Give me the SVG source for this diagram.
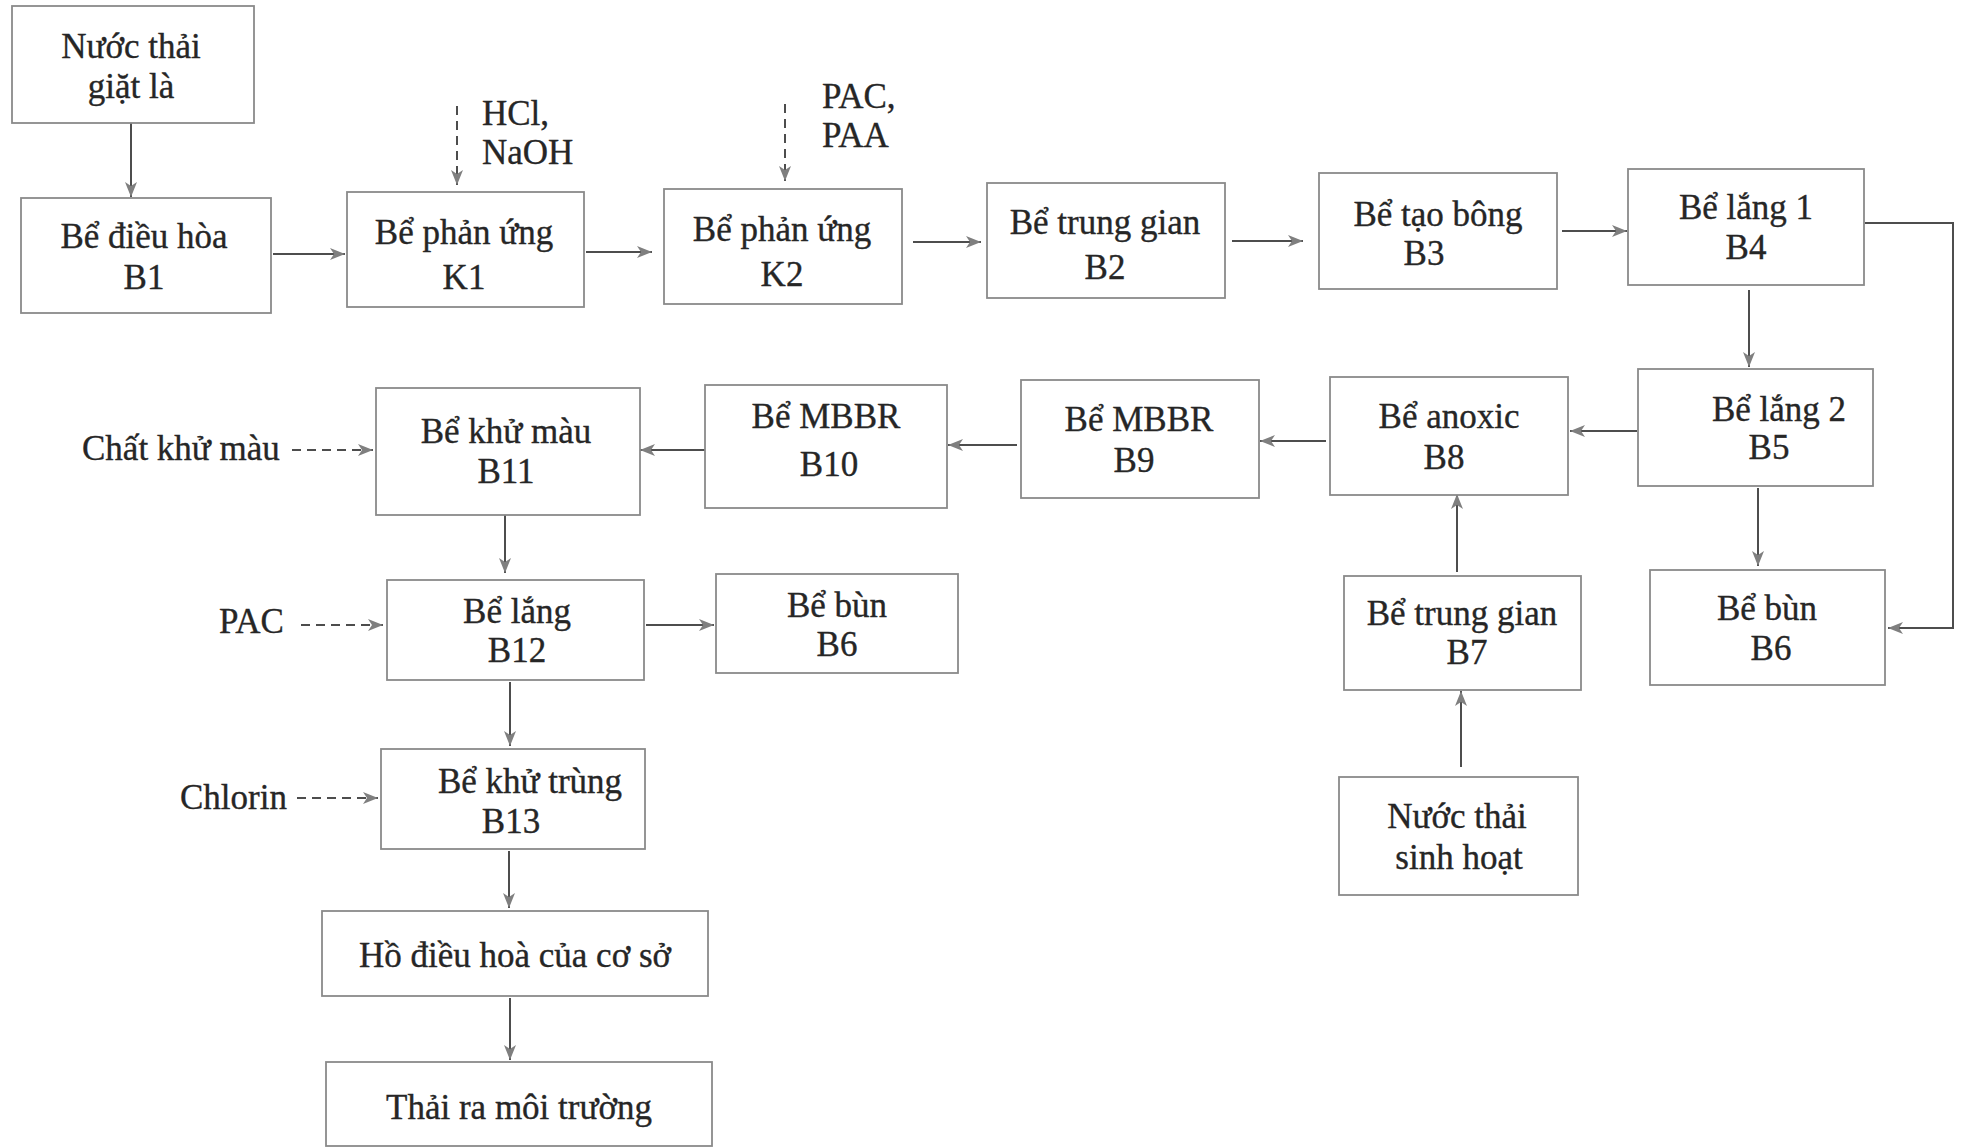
<svg xmlns="http://www.w3.org/2000/svg" width="1964" height="1148" viewBox="0 0 1964 1148">
<defs>
<marker id="ah" markerUnits="userSpaceOnUse" markerWidth="16" markerHeight="16" refX="15" refY="8" orient="auto">
<path d="M0,2 L15,8 L0,14 L4,8 z" fill="#7f7f7f"/>
</marker>
</defs>
<style>
.box{fill:#fff;stroke:#8a8a8a;stroke-width:1.8}
.t{font-family:"Liberation Serif","Times New Roman",serif;font-size:35px;fill:#262626;stroke:#262626;stroke-width:0.35;text-anchor:middle}
.l{font-family:"Liberation Serif","Times New Roman",serif;font-size:35px;fill:#262626;stroke:#262626;stroke-width:0.35}
.c{fill:none;stroke:#4d4d4d;stroke-width:2;marker-end:url(#ah)}
.d{fill:none;stroke:#4d4d4d;stroke-width:2;stroke-dasharray:9 6;marker-end:url(#ah)}
</style>
<rect width="1964" height="1148" fill="#fff"/>
<g id="connectors">
<path class="c" d="M131,123 V197"/>
<path class="c" d="M273,254 H345"/>
<path class="c" d="M586,252 H652"/>
<path class="c" d="M913,242 H981"/>
<path class="c" d="M1232,241 H1303"/>
<path class="c" d="M1562,231 H1627"/>
<path class="c" d="M1865,223 H1953 V628 H1888"/>
<path class="c" d="M1749,290 V367"/>
<path class="c" d="M1758,488 V566"/>
<path class="c" d="M1637,431 H1570"/>
<path class="c" d="M1326,441 H1260"/>
<path class="c" d="M1017,445 H948"/>
<path class="c" d="M705,450 H640"/>
<path class="c" d="M1457,572 V494"/>
<path class="c" d="M1461,767 V691"/>
<path class="c" d="M505,515 V573"/>
<path class="c" d="M646,625 H714"/>
<path class="c" d="M510,682 V746"/>
<path class="c" d="M509,851 V908"/>
<path class="c" d="M510,998 V1060"/>
<path class="d" d="M457,106 V185"/>
<path class="d" d="M785,104 V181"/>
<path class="d" d="M292,450 H373"/>
<path class="d" d="M301,625 H383"/>
<path class="d" d="M297,798 H378"/>
</g>
<g id="n-ntgl"><rect class="box" x="12" y="6" width="242" height="117"/><text class="t" x="131" y="58">Nước thải</text><text class="t" x="131" y="98">giặt là</text></g>
<g id="n-b1"><rect class="box" x="21" y="198" width="250" height="115"/><text class="t" x="144" y="248">Bể điều hòa</text><text class="t" x="144" y="289">B1</text></g>
<g id="n-k1"><rect class="box" x="347" y="192" width="237" height="115"/><text class="t" x="464" y="244">Bể phản ứng</text><text class="t" x="464" y="289">K1</text></g>
<g id="n-k2"><rect class="box" x="664" y="189" width="238" height="115"/><text class="t" x="782" y="241">Bể phản ứng</text><text class="t" x="782" y="286">K2</text></g>
<g id="n-b2"><rect class="box" x="987" y="183" width="238" height="115"/><text class="t" x="1105" y="234">Bể trung gian</text><text class="t" x="1105" y="279">B2</text></g>
<g id="n-b3"><rect class="box" x="1319" y="173" width="238" height="116"/><text class="t" x="1438" y="226">Bể tạo bông</text><text class="t" x="1424" y="265">B3</text></g>
<g id="n-b4"><rect class="box" x="1628" y="169" width="236" height="116"/><text class="t" x="1746" y="219">Bể lắng 1</text><text class="t" x="1746" y="259">B4</text></g>
<g id="n-b5"><rect class="box" x="1638" y="369" width="235" height="117"/><text class="t" x="1779" y="421">Bể lắng 2</text><text class="t" x="1769" y="459">B5</text></g>
<g id="n-b6r"><rect class="box" x="1650" y="570" width="235" height="115"/><text class="t" x="1767" y="620">Bể bùn</text><text class="t" x="1771" y="660">B6</text></g>
<g id="n-b8"><rect class="box" x="1330" y="377" width="238" height="118"/><text class="t" x="1449" y="428">Bể anoxic</text><text class="t" x="1444" y="469">B8</text></g>
<g id="n-b7"><rect class="box" x="1344" y="576" width="237" height="114"/><text class="t" x="1462" y="625">Bể trung gian</text><text class="t" x="1467" y="664">B7</text></g>
<g id="n-ntsh"><rect class="box" x="1339" y="777" width="239" height="118"/><text class="t" x="1457" y="828">Nước thải</text><text class="t" x="1459" y="869">sinh hoạt</text></g>
<g id="n-b9"><rect class="box" x="1021" y="380" width="238" height="118"/><text class="t" x="1139" y="431">Bể MBBR</text><text class="t" x="1134" y="472">B9</text></g>
<g id="n-b10"><rect class="box" x="705" y="385" width="242" height="123"/><text class="t" x="826" y="428">Bể MBBR</text><text class="t" x="829" y="476">B10</text></g>
<g id="n-b11"><rect class="box" x="376" y="388" width="264" height="127"/><text class="t" x="506" y="443">Bể khử màu</text><text class="t" x="506" y="483">B11</text></g>
<g id="n-b12"><rect class="box" x="387" y="580" width="257" height="100"/><text class="t" x="517" y="623">Bể lắng</text><text class="t" x="517" y="662">B12</text></g>
<g id="n-b6l"><rect class="box" x="716" y="574" width="242" height="99"/><text class="t" x="837" y="617">Bể bùn</text><text class="t" x="837" y="656">B6</text></g>
<g id="n-b13"><rect class="box" x="381" y="749" width="264" height="100"/><text class="t" x="530" y="793">Bể khử trùng</text><text class="t" x="511" y="833">B13</text></g>
<g id="n-ho"><rect class="box" x="322" y="911" width="386" height="85"/><text class="t" x="515" y="967">Hồ điều hoà của cơ sở</text></g>
<g id="n-thai"><rect class="box" x="326" y="1062" width="386" height="84"/><text class="t" x="519" y="1119">Thải ra môi trường</text></g>
<g id="labels">
<text class="l" x="482" y="125">HCl,</text>
<text class="l" x="482" y="164">NaOH</text>
<text class="l" x="822" y="108">PAC,</text>
<text class="l" x="822" y="147">PAA</text>
<text class="l" x="82" y="460">Chất khử màu</text>
<text class="l" x="219" y="633">PAC</text>
<text class="l" x="180" y="809">Chlorin</text>
</g>
</svg>
